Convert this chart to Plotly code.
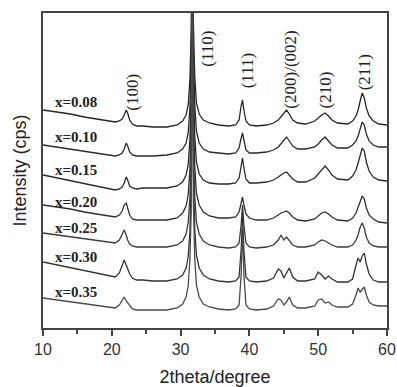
import plotly.graph_objects as go

# 2theta grid (degrees), shared by all patterns
two_theta = [10, 12, 14, 16, 18, 19.5, 20.5, 21.1, 21.5, 21.8,
             22.1, 22.3, 22.6, 23.0, 23.6, 24.5, 26, 28, 29.5, 30.3,
             30.8, 31.1, 31.35, 31.55, 31.7, 31.85, 32.05, 32.3, 32.7, 33.3,
             34.2, 35.5, 37, 38.0, 38.5, 38.8, 39.0, 39.2, 39.5, 40.0,
             41, 42.5, 43.5, 44.2, 44.6, 45.0, 45.4, 45.8, 46.3, 47.0,
             48.2, 49.5, 50.0, 50.5, 51.0, 51.5, 52.0, 52.8, 54.3, 55.0,
             55.5, 55.8, 56.1, 56.4, 56.7, 57.0, 57.4, 58.0, 58.8, 60]

# stacked intensities (a.u., offsets included)
i_008 = [218, 216, 214, 211, 209, 207, 206, 207, 209, 213,
         218, 215, 208, 204, 202, 202, 201, 201, 203, 207,
         213, 223, 248, 298, 430, 308, 253, 225, 214, 208,
         205, 203, 202, 203, 208, 222, 228, 218, 207, 203,
         202, 203, 205, 208, 211, 214, 218, 214, 208, 205,
         204, 207, 210, 213, 215, 212, 208, 205, 204, 207,
         212, 218, 227, 235, 230, 220, 212, 207, 204, 203]
i_010 = [183, 181, 179, 177, 175, 173, 172, 173, 175, 179,
         185, 182, 176, 173, 172, 172, 172, 173, 175, 179,
         185, 195, 220, 268, 430, 278, 225, 197, 185, 179,
         176, 175, 174, 175, 180, 190, 195, 188, 178, 175,
         175, 176, 178, 181, 184, 187, 191, 187, 182, 179,
         179, 181, 184, 188, 191, 187, 183, 180, 180, 183,
         187, 192, 200, 206, 203, 194, 187, 183, 181, 181]
i_015 = [153, 150, 147, 144, 141, 139, 138, 139, 141, 145,
         151, 148, 142, 140, 139, 140, 140, 140, 142, 146,
         153, 163, 188, 238, 430, 248, 193, 166, 154, 148,
         145, 144, 144, 145, 150, 163, 170, 160, 149, 145,
         145, 146, 148, 151, 153, 155, 156, 153, 149, 146,
         146, 150, 154, 159, 162, 158, 153, 149, 148, 152,
         158, 165, 174, 180, 177, 166, 157, 151, 148, 147]
i_020 = [123, 121, 119, 116, 114, 112, 111, 113, 117, 123,
         125, 120, 113, 109, 108, 108, 108, 108, 110, 115,
         122, 133, 158, 208, 430, 218, 163, 135, 123, 116,
         112, 110, 110, 111, 116, 126, 131, 123, 114, 110,
         108, 108, 110, 113, 115, 116, 117, 115, 111, 108,
         107, 109, 112, 115, 116, 114, 111, 108, 107, 110,
         115, 121, 128, 132, 129, 120, 113, 109, 106, 105]
i_025 = [95, 93, 91, 89, 87, 86, 85, 88, 93, 98,
         93, 88, 84, 82, 81, 81, 81, 81, 83, 87,
         94, 105, 130, 178, 430, 188, 133, 106, 94, 87,
         83, 81, 80, 81, 85, 103, 123, 103, 85, 81,
         80, 81, 83, 88, 93, 88, 91, 87, 83, 81,
         81, 83, 86, 88, 87, 85, 83, 81, 81, 83,
         88, 93, 101, 105, 100, 91, 85, 82, 81, 81]
i_030 = [66, 63, 60, 57, 54, 52, 51, 55, 63, 68,
         63, 60, 54, 50, 48, 48, 47, 47, 49, 53,
         60, 71, 96, 148, 430, 158, 100, 73, 60, 53,
         49, 47, 46, 47, 51, 78, 113, 78, 51, 47,
         46, 47, 50, 59, 57, 50, 55, 60, 51, 47,
         47, 49, 56, 53, 49, 52, 49, 46, 46, 49,
         63, 70, 66, 72, 75, 64, 54, 48, 46, 46]
i_035 = [30, 28, 26, 24, 22, 21, 20, 23, 28, 31,
         27, 25, 22, 19, 18, 18, 18, 18, 20, 24,
         31, 42, 68, 118, 430, 128, 70, 43, 31, 24,
         21, 19, 18, 19, 23, 53, 103, 53, 23, 19,
         18, 19, 22, 29, 28, 23, 26, 31, 23, 20,
         20, 22, 28, 29, 25, 26, 23, 21, 21, 24,
         33, 40, 36, 38, 41, 33, 26, 23, 22, 22]

sample_labels = ["x=0.08", "x=0.10", "x=0.15", "x=0.20", "x=0.25", "x=0.30", "x=0.35"]
label_y = [226, 191, 158, 126, 100, 71, 36]
series = [i_008, i_010, i_015, i_020, i_025, i_030, i_035]
line_colors = ["#262626", "#2a2a2a", "#2a2a2a", "#303030", "#3a3a3a", "#333333", "#4a4a4a"]

peak_labels = ["(100)", "(110)", "(111)", "(200)/(002)", "(210)", "(211)"]
peak_label_x = [22.9, 33.8, 39.7, 45.85, 51.05, 56.7]
peak_label_y = [236, 279, 258, 258, 238, 256]

fig = go.Figure()
for name, ys, col in zip(sample_labels, series, line_colors):
    fig.add_trace(go.Scatter(x=two_theta, y=ys, mode="lines", name=name,
                             line=dict(color=col, width=1.3), showlegend=False))

for txt, yy in zip(sample_labels, label_y):
    fig.add_annotation(x=14.85, y=yy, text="<b>" + txt + "</b>", showarrow=False,
                       font=dict(family="Liberation Serif", size=15, color="#222"))

for txt, xx, yy in zip(peak_labels, peak_label_x, peak_label_y):
    fig.add_annotation(x=xx, y=yy, text=txt, showarrow=False, textangle=-90,
                       font=dict(family="Liberation Serif", size=17, color="#222"))

fig.update_layout(
    width=397, height=387,
    margin=dict(l=43, r=10, t=13, b=59),
    paper_bgcolor="white", plot_bgcolor="white",
    xaxis=dict(range=[10, 60], dtick=10, tick0=10, showgrid=False, zeroline=False,
               automargin=False,
               showline=True, mirror=True, linecolor="#444", linewidth=1.5,
               ticks="outside", ticklen=6, tickwidth=1.5, tickcolor="#444",
               minor=dict(dtick=5, tick0=10, ticks="outside", ticklen=4, tickwidth=1.5, tickcolor="#444"),
               tickfont=dict(family="Liberation Sans", size=16, color="#333"),
               title=dict(text="2theta/degree", standoff=14,
                          font=dict(family="Liberation Sans", size=18, color="#222"))),
    yaxis=dict(range=[0, 315], showgrid=False, zeroline=False, showticklabels=False,
               automargin=False,
               showline=True, mirror=True, linecolor="#444", linewidth=1.5, ticks="",
               title=dict(text="Intensity (cps)", standoff=10,
                          font=dict(family="Liberation Sans", size=18, color="#222"))),
)

fig.write_html("out.html")
